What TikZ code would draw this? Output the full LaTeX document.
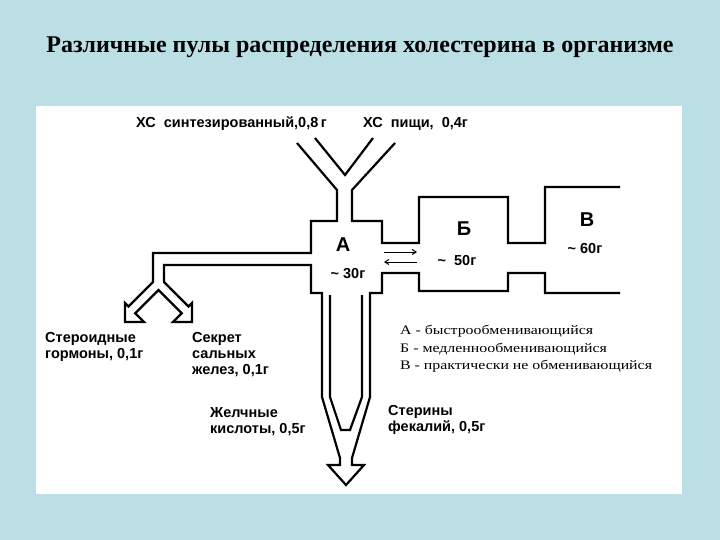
\documentclass[tikz,border=0pt]{standalone}
\usepackage{fontspec}
\setmainfont{Liberation Serif}
\newfontfamily\lsans{Liberation Sans}
\newfontfamily\legfont[FakeStretch=1.22]{Liberation Serif}
\usetikzlibrary{arrows.meta}
\definecolor{bgblue}{RGB}{187,223,228}
\begin{document}
\begin{tikzpicture}[x=1pt,y=-1pt,
  outline/.style={line width=2.2pt, line join=miter, line cap=butt},
  lbl/.style={font=\lsans\bfseries\fontsize{14.5}{16}\selectfont, inner sep=0pt, align=left},
  big/.style={font=\lsans\bfseries\fontsize{20}{22}\selectfont, inner sep=0pt},
  mass/.style={font=\lsans\bfseries\fontsize{14.5}{16}\selectfont, inner sep=0pt},
  legend/.style={font=\legfont\fontsize{13}{17.5}\selectfont, inner sep=0pt, align=left},
  flow/.style={line width=1pt, -{Straight Barb[length=4pt,width=5pt]}}]
\useasboundingbox (0,0) rectangle (720,540);
\fill[bgblue] (0,0) rectangle (720,540);
\fill[white] (36,106) rectangle (682,494);
\node[font=\bfseries\fontsize{24}{28}\selectfont, inner sep=0pt] (title) at (360,47) {Различные пулы распределения холестерина в организме};

% main outline
\draw[outline] (297,143) -- (337,190) -- (337,221) -- (311,221) -- (311,253) -- (153,253) -- (153,282)
  -- (128.5,306.5) -- (125,303) -- (125,322) -- (144,322) -- (135.25,313.25) -- (158.5,290)
  -- (181.75,313.25) -- (173,322) -- (192,322) -- (192,303) -- (188.5,306.5) -- (164,282)
  -- (164,265) -- (311,265) -- (311,293) -- (322,293) -- (322,397) -- (340,458) -- (340,465)
  -- (328,465) -- (346,485) -- (364,465) -- (352,465) -- (352,458) -- (370,397) -- (370,293)
  -- (382,293) -- (382,273) -- (419,273) -- (419,291) -- (508,291) -- (508,273) -- (545,273)
  -- (545,293) -- (620,293);
\draw[outline] (620,187) -- (545,187) -- (545,243) -- (508,243) -- (508,197) -- (419,197)
  -- (419,243) -- (382,243) -- (382,221) -- (352,221) -- (352,190) -- (395,143);
\draw[outline] (315,138) -- (345,175) -- (373,138);
\draw[outline] (330,295) -- (330,397) -- (341,430) -- (350,430) -- (362,397) -- (362,295);

% exchange arrows
\coordinate (ea) at (384,252);
\coordinate (eb) at (417,252);
\coordinate (ec) at (417,262);
\coordinate (ed) at (384,262);
\draw[flow] (ea) -- (eb);
\draw[flow] (ec) -- (ed);

% labels
\node[lbl, anchor=west] (syn) at (136,124) {ХС\ \ синтезированный,0,8\,г};
\node[lbl, anchor=west] (food) at (363,124) {ХС\ \ пищи,\ \ 0,4г};
\node[big] (A) at (343,245) {А};
\node[mass] (Am) at (348,274) {\textasciitilde\ 30г};
\node[big] (B) at (464,229) {Б};
\node[mass] (Bm) at (457,261) {\textasciitilde\ \ 50г};
\node[big] (V) at (587,220) {В};
\node[mass] (Vm) at (585,249) {\textasciitilde\ 60г};
\node[lbl, anchor=north west] (ster) at (45,332) {Стероидные\\гормоны,\ 0,1г};
\node[lbl, anchor=north west] (sekr) at (192,332) {Секрет\\сальных\\желез,\ 0,1г};
\node[lbl, anchor=north west] (bile) at (210,407) {Желчные\\кислоты,\ 0,5г};
\node[lbl, anchor=north west] (fec) at (388,405) {Стерины\\фекалий,\ 0,5г};
\node[legend, anchor=north west] (leg) at (400,325) {А - быстрообменивающийся\\Б - медленнообменивающийся\\В - практически не обменивающийся};
\end{tikzpicture}
\end{document}
